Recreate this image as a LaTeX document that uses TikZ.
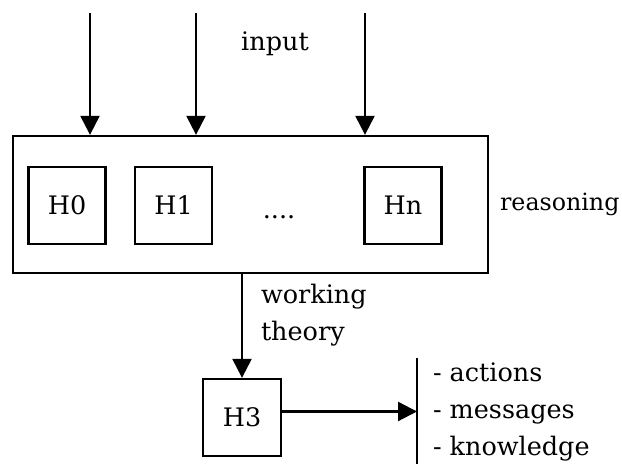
\documentclass[tikz,border=0pt]{standalone}
\usepackage{fontspec}
\setmainfont{DejaVu Serif}
\usetikzlibrary{arrows.meta}

\begin{document}
\begin{tikzpicture}[
  every node/.style={font=\fontsize{14.5}{21}\selectfont},
  line width=1.3pt,
  hbox/.style={draw, minimum width=1.54cm, minimum height=1.54cm, inner sep=0pt},
  flow/.style={-{Triangle[width=0.38cm,length=0.38cm]}},
]

\useasboundingbox (0,0) rectangle (12.44,9.28);

\node[draw, minimum width=9.50cm, minimum height=2.74cm] (reason) at (5.01,5.19) {};
\node[hbox] (h0) at (1.34,5.17) {H0};
\node[hbox] (h1) at (3.47,5.17) {H1};
\node (dots) at (5.58,4.94) {....};
\node[hbox] (hn) at (8.06,5.17) {Hn};
\node[anchor=west, inner sep=0pt, font=\fontsize{13.5}{16}\selectfont] (reasonlbl) at (9.98,5.19) {reasoning};

\node (inputlbl) at (5.50,8.40) {input};
\coordinate (in0) at (1.80,9.02);
\coordinate (in1) at (3.92,9.02);
\coordinate (in2) at (7.30,9.02);
\foreach \c in {in0,in1,in2}
  \draw[flow] (\c) -- (\c |- reason.north);

\node[hbox, minimum width=1.56cm] (h3) at (4.84,0.93) {H3};
\draw[flow] (h3.north |- reason.south) -- (h3.north);
\node[anchor=west, align=left] (wtheory) at (5.08,2.98) {working\\theory};

\coordinate (bartop) at (8.34,2.12);
\coordinate (barbot) at (8.34,0);
\draw (bartop) -- (barbot);
\draw[flow] ([yshift=0.12cm]h3.east) -- ([yshift=0.12cm]h3.east -| bartop);
\node[anchor=west, align=left] (outputs) at (8.52,1.04) {- actions\\- messages\\- knowledge};

\end{tikzpicture}
\end{document}
